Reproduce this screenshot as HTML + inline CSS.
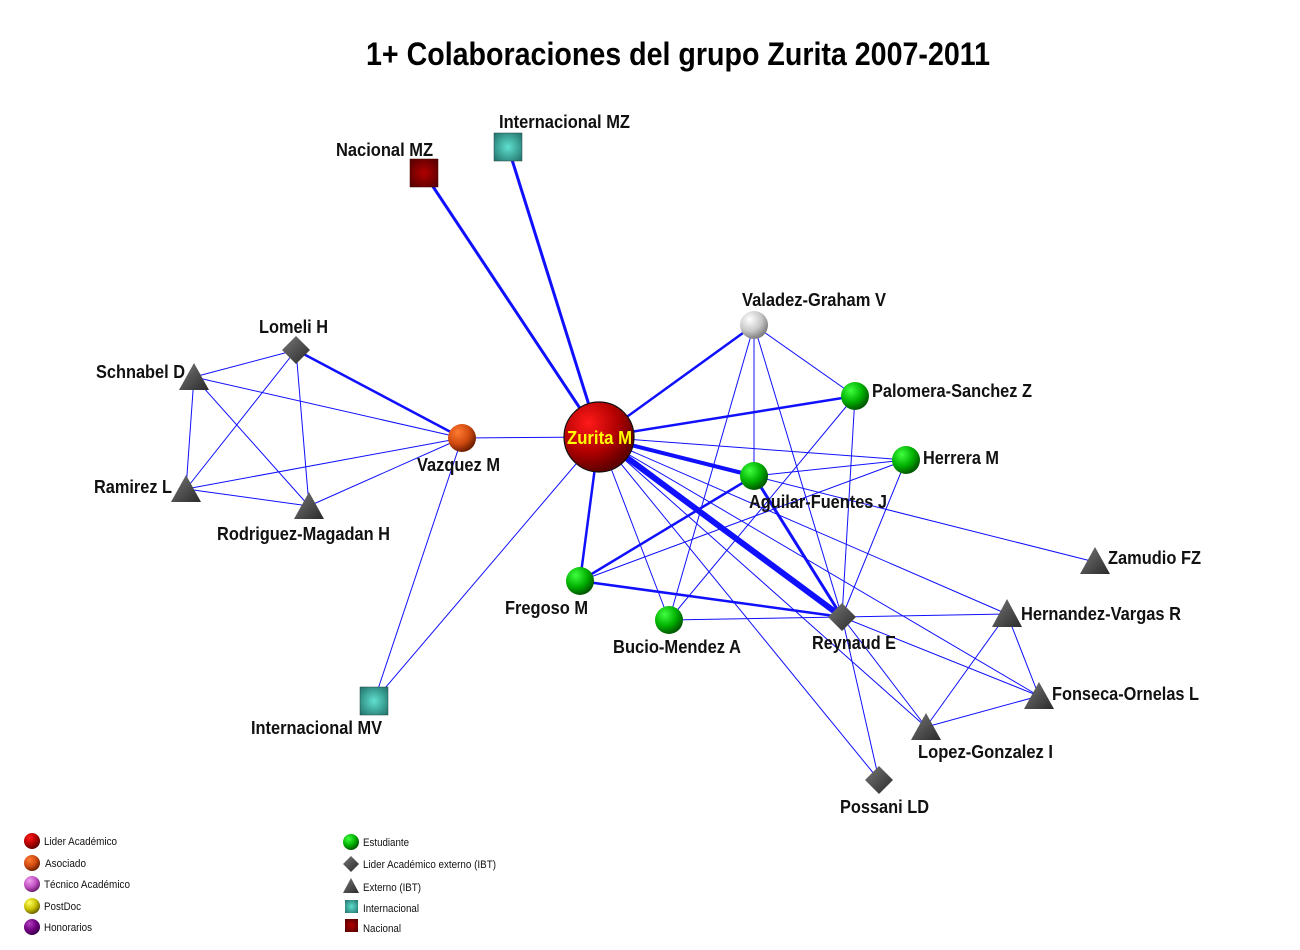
<!DOCTYPE html>
<html><head><meta charset="utf-8"><style>
html,body{margin:0;padding:0;background:#fff;}
svg{display:block;font-family:"Liberation Sans",sans-serif;}
.l{font-weight:bold;font-size:18px;fill:#111;}
.g{font-size:11px;fill:#111;}
</style></head><body>
<svg width="1300" height="950" viewBox="0 0 1300 950" xmlns="http://www.w3.org/2000/svg">
<defs>
<radialGradient id="red" cx="35%" cy="30%" r="70%"><stop offset="0" stop-color="#ff1a1a"/><stop offset="0.6" stop-color="#b00000"/><stop offset="1" stop-color="#600000"/></radialGradient>
<radialGradient id="grn" cx="35%" cy="30%" r="70%"><stop offset="0" stop-color="#40ff40"/><stop offset="0.6" stop-color="#00b000"/><stop offset="1" stop-color="#005a00"/></radialGradient>
<radialGradient id="org" cx="35%" cy="30%" r="70%"><stop offset="0" stop-color="#ff7a30"/><stop offset="0.6" stop-color="#d04a10"/><stop offset="1" stop-color="#702000"/></radialGradient>
<radialGradient id="gry" cx="35%" cy="30%" r="70%"><stop offset="0" stop-color="#fff"/><stop offset="0.6" stop-color="#c8c8c8"/><stop offset="1" stop-color="#808080"/></radialGradient>
<radialGradient id="pnk" cx="35%" cy="30%" r="70%"><stop offset="0" stop-color="#f0a0f0"/><stop offset="0.6" stop-color="#c050c0"/><stop offset="1" stop-color="#702070"/></radialGradient>
<radialGradient id="yel" cx="35%" cy="30%" r="70%"><stop offset="0" stop-color="#ffff60"/><stop offset="0.6" stop-color="#c8c000"/><stop offset="1" stop-color="#706800"/></radialGradient>
<radialGradient id="pur" cx="35%" cy="30%" r="70%"><stop offset="0" stop-color="#b040c0"/><stop offset="0.6" stop-color="#700080"/><stop offset="1" stop-color="#400050"/></radialGradient>
<radialGradient id="tea" cx="50%" cy="50%" r="70%"><stop offset="0" stop-color="#60e0d0"/><stop offset="1" stop-color="#207068"/></radialGradient>
<radialGradient id="nac" cx="50%" cy="50%" r="70%"><stop offset="0" stop-color="#b00000"/><stop offset="1" stop-color="#500000"/></radialGradient>
<linearGradient id="dk" x1="0" y1="0" x2="1" y2="1"><stop offset="0" stop-color="#777"/><stop offset="1" stop-color="#2a2a2a"/></linearGradient>
</defs>
<text x="366" y="65" textLength="624" lengthAdjust="spacingAndGlyphs" style="font-weight:bold;font-size:32px;fill:#000">1+ Colaboraciones del grupo Zurita 2007-2011</text>
<g stroke="#1010ff" stroke-width="1" fill="none">
<line x1="599" y1="437" x2="462" y2="438"/>
<line x1="599" y1="437" x2="374" y2="701"/>
<line x1="599" y1="437" x2="906" y2="460"/>
<line x1="599" y1="437" x2="669" y2="620"/>
<line x1="599" y1="437" x2="1007" y2="614"/>
<line x1="599" y1="437" x2="1039" y2="696"/>
<line x1="599" y1="437" x2="926" y2="727"/>
<line x1="599" y1="437" x2="879" y2="780"/>
<line x1="754" y1="476" x2="1095" y2="562"/>
<line x1="754" y1="325" x2="754" y2="476"/>
<line x1="754" y1="325" x2="855" y2="396"/>
<line x1="754" y1="325" x2="842" y2="617"/>
<line x1="754" y1="325" x2="669" y2="620"/>
<line x1="855" y1="396" x2="842" y2="617"/>
<line x1="855" y1="396" x2="669" y2="620"/>
<line x1="906" y1="460" x2="754" y2="476"/>
<line x1="906" y1="460" x2="842" y2="617"/>
<line x1="906" y1="460" x2="580" y2="581"/>
<line x1="669" y1="620" x2="842" y2="617"/>
<line x1="842" y1="617" x2="1007" y2="614"/>
<line x1="842" y1="617" x2="1039" y2="696"/>
<line x1="842" y1="617" x2="926" y2="727"/>
<line x1="842" y1="617" x2="879" y2="780"/>
<line x1="1007" y1="614" x2="926" y2="727"/>
<line x1="1007" y1="614" x2="1039" y2="696"/>
<line x1="1039" y1="696" x2="926" y2="727"/>
<line x1="296" y1="350" x2="194" y2="377"/>
<line x1="296" y1="350" x2="186" y2="489"/>
<line x1="296" y1="350" x2="309" y2="506"/>
<line x1="194" y1="377" x2="186" y2="489"/>
<line x1="194" y1="377" x2="309" y2="506"/>
<line x1="194" y1="377" x2="462" y2="438"/>
<line x1="186" y1="489" x2="309" y2="506"/>
<line x1="186" y1="489" x2="462" y2="438"/>
<line x1="309" y1="506" x2="462" y2="438"/>
<line x1="462" y1="438" x2="374" y2="701"/>
</g>
<g stroke="#1010ff" fill="none">
<line x1="599" y1="437" x2="424" y2="173" stroke-width="3"/>
<line x1="599" y1="437" x2="508" y2="147" stroke-width="3"/>
<line x1="599" y1="437" x2="754" y2="325" stroke-width="2.5"/>
<line x1="599" y1="437" x2="855" y2="396" stroke-width="2.5"/>
<line x1="599" y1="437" x2="754" y2="476" stroke-width="4"/>
<line x1="599" y1="437" x2="842" y2="617" stroke-width="6"/>
<line x1="754" y1="476" x2="842" y2="617" stroke-width="3"/>
<line x1="599" y1="437" x2="580" y2="581" stroke-width="2.5"/>
<line x1="580" y1="581" x2="754" y2="476" stroke-width="2.5"/>
<line x1="580" y1="581" x2="842" y2="617" stroke-width="2.5"/>
<line x1="296" y1="350" x2="462" y2="438" stroke-width="2.5"/>
</g>
<rect x="410" y="159" width="28" height="28" fill="url(#nac)" stroke="#400" stroke-width="0.5"/>
<rect x="494" y="133" width="28" height="28" fill="url(#tea)" stroke="#244" stroke-width="0.5"/>
<rect x="360" y="687" width="28" height="28" fill="url(#tea)" stroke="#244" stroke-width="0.5"/>
<circle cx="599" cy="437" r="35" fill="url(#red)" stroke="#111" stroke-width="1.2"/>
<circle cx="754" cy="325" r="14" fill="url(#gry)"/>
<circle cx="855" cy="396" r="14" fill="url(#grn)"/>
<circle cx="906" cy="460" r="14" fill="url(#grn)"/>
<circle cx="754" cy="476" r="14" fill="url(#grn)"/>
<circle cx="669" cy="620" r="14" fill="url(#grn)"/>
<circle cx="580" cy="581" r="14" fill="url(#grn)"/>
<circle cx="462" cy="438" r="14" fill="url(#org)"/>
<g fill="url(#dk)">
<polygon points="842,603 856,617 842,631 828,617"/>
<polygon points="879,766 893,780 879,794 865,780"/>
<polygon points="296,336 310,350 296,364 282,350"/>
<polygon points="1095,547 1110,574 1080,574"/>
<polygon points="1007,599 1022,627 992,627"/>
<polygon points="1039,682 1054,709 1024,709"/>
<polygon points="926,713 941,740 911,740"/>
<polygon points="194,363 209,390 179,390"/>
<polygon points="186,475 201,502 171,502"/>
<polygon points="309,492 324,519 294,519"/>
</g>
<g class="l" lengthAdjust="spacingAndGlyphs">
<text x="567" y="444" textLength="65" lengthAdjust="spacingAndGlyphs" class="l" style="fill:#ffff00">Zurita M</text>
<text x="336" y="156" textLength="97" lengthAdjust="spacingAndGlyphs" class="l">Nacional MZ</text>
<text x="499" y="128" textLength="131" lengthAdjust="spacingAndGlyphs" class="l">Internacional MZ</text>
<text x="742" y="306" textLength="144" lengthAdjust="spacingAndGlyphs" class="l">Valadez-Graham V</text>
<text x="872" y="397" textLength="160" lengthAdjust="spacingAndGlyphs" class="l">Palomera-Sanchez Z</text>
<text x="923" y="464" textLength="76" lengthAdjust="spacingAndGlyphs" class="l">Herrera M</text>
<text x="749" y="508" textLength="138" lengthAdjust="spacingAndGlyphs" class="l">Aguilar-Fuentes J</text>
<text x="1108" y="564" textLength="93" lengthAdjust="spacingAndGlyphs" class="l">Zamudio FZ</text>
<text x="1021" y="620" textLength="160" lengthAdjust="spacingAndGlyphs" class="l">Hernandez-Vargas R</text>
<text x="1052" y="700" textLength="147" lengthAdjust="spacingAndGlyphs" class="l">Fonseca-Ornelas L</text>
<text x="918" y="758" textLength="135" lengthAdjust="spacingAndGlyphs" class="l">Lopez-Gonzalez I</text>
<text x="840" y="813" textLength="89" lengthAdjust="spacingAndGlyphs" class="l">Possani LD</text>
<text x="812" y="649" textLength="84" lengthAdjust="spacingAndGlyphs" class="l">Reynaud E</text>
<text x="613" y="653" textLength="128" lengthAdjust="spacingAndGlyphs" class="l">Bucio-Mendez A</text>
<text x="505" y="614" textLength="83" lengthAdjust="spacingAndGlyphs" class="l">Fregoso M</text>
<text x="417" y="471" textLength="83" lengthAdjust="spacingAndGlyphs" class="l">Vazquez M</text>
<text x="259" y="333" textLength="69" lengthAdjust="spacingAndGlyphs" class="l">Lomeli H</text>
<text x="96" y="378" textLength="89" lengthAdjust="spacingAndGlyphs" class="l">Schnabel D</text>
<text x="94" y="493" textLength="78" lengthAdjust="spacingAndGlyphs" class="l">Ramirez L</text>
<text x="217" y="540" textLength="173" lengthAdjust="spacingAndGlyphs" class="l">Rodriguez-Magadan H</text>
<text x="251" y="734" textLength="131" lengthAdjust="spacingAndGlyphs" class="l">Internacional MV</text>
</g>
<circle cx="32" cy="841" r="8" fill="url(#red)"/><text x="44" y="845" textLength="73" lengthAdjust="spacingAndGlyphs" class="g">Lider Académico</text>
<circle cx="32" cy="863" r="8" fill="url(#org)"/><text x="45" y="867" textLength="41" lengthAdjust="spacingAndGlyphs" class="g">Asociado</text>
<circle cx="32" cy="884" r="8" fill="url(#pnk)"/><text x="44" y="888" textLength="86" lengthAdjust="spacingAndGlyphs" class="g">Técnico Académico</text>
<circle cx="32" cy="906" r="8" fill="url(#yel)"/><text x="44" y="910" textLength="37" lengthAdjust="spacingAndGlyphs" class="g">PostDoc</text>
<circle cx="32" cy="927" r="8" fill="url(#pur)"/><text x="44" y="931" textLength="48" lengthAdjust="spacingAndGlyphs" class="g">Honorarios</text>
<circle cx="351" cy="842" r="8" fill="url(#grn)"/><text x="363" y="846" textLength="46" lengthAdjust="spacingAndGlyphs" class="g">Estudiante</text>
<polygon points="351,856 359,864 351,872 343,864" fill="url(#dk)"/><text x="363" y="868" textLength="133" lengthAdjust="spacingAndGlyphs" class="g">Lider Académico externo (IBT)</text>
<polygon points="351,878 359,893 343,893" fill="url(#dk)"/><text x="363" y="891" textLength="58" lengthAdjust="spacingAndGlyphs" class="g">Externo (IBT)</text>
<rect x="345" y="900" width="13" height="13" fill="url(#tea)"/><text x="363" y="912" textLength="56" lengthAdjust="spacingAndGlyphs" class="g">Internacional</text>
<rect x="345" y="919" width="13" height="13" fill="url(#nac)"/><text x="363" y="932" textLength="38" lengthAdjust="spacingAndGlyphs" class="g">Nacional</text>
</svg>
</body></html>
